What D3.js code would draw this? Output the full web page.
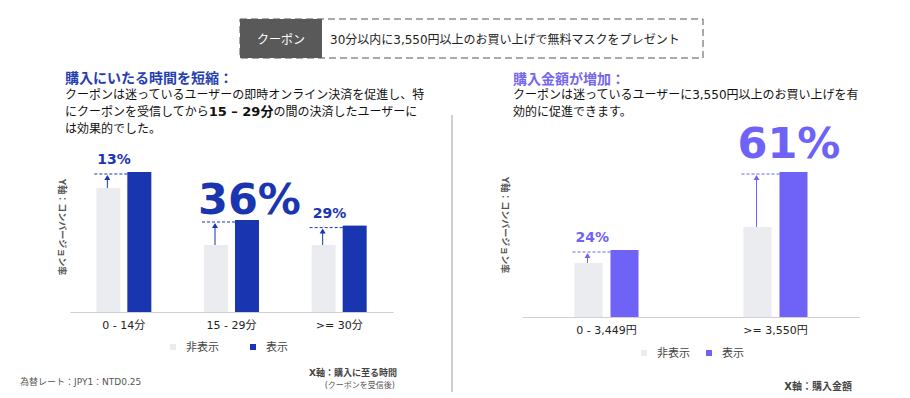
<!DOCTYPE html>
<html>
<head>
<meta charset="utf-8">
<script src="https://cdn.jsdelivr.net/npm/d3@7"></script>
<style>
	body { margin: 0; background: #fff; }
	text { font-family: "DejaVu Sans", "Noto Sans CJK JP", sans-serif; }
</style>
</head>
<body>
<script>
// left chart data (conversion rate, relative)
const timeCats = ["0 - 14分", "15 - 29分", ">= 30分"];
const timeHidden = [62, 33.5, 33.5];
const timeShown = [70, 46, 43.2];
const timeLift = ["13%", "36%", "29%"];

// right chart data
const amountCats = ["0 - 3,449円", ">= 3,550円"];
const amountHidden = [27, 45];
const amountShown = [33.5, 72.5];
const amountLift = ["24%", "61%"];

const legendNames = ["非表示", "表示"];

const width = 910;
const height = 398;
const grey = "#ebecf0";
const blue = "#1a35b0";
const purple = "#6e62f7";

const svg = d3.select("body").append("svg")
	.attr("width", width)
	.attr("height", height);

// coupon header box
svg.append("rect")
	.attr("x", 240).attr("y", 19)
	.attr("width", 463).attr("height", 39)
	.attr("fill", "none")
	.attr("stroke", "#555")
	.attr("stroke-dasharray", "7,4");
svg.append("rect")
	.attr("x", 240).attr("y", 19)
	.attr("width", 82).attr("height", 39)
	.attr("fill", "#595959");
svg.append("text")
	.attr("x", 281).attr("y", 44)
	.attr("text-anchor", "middle")
	.attr("font-size", 12)
	.attr("fill", "#fff")
	.text("クーポン");
svg.append("text")
	.attr("x", 330).attr("y", 44)
	.attr("font-size", 12)
	.attr("fill", "#222")
	.text("30分以内に3,550円以上のお買い上げで無料マスクをプレゼント");

// divider
svg.append("line")
	.attr("x1", 452).attr("x2", 452)
	.attr("y1", 115).attr("y2", 392)
	.attr("stroke", "#888")
	.attr("stroke-width", 0.8);

// text blocks
const addTitle = (x, y, txt, color) => {
	svg.append("text")
		.attr("x", x).attr("y", y)
		.attr("font-size", 14)
		.attr("font-weight", "bold")
		.attr("fill", color)
		.text(txt);
};
addTitle(65, 83, "購入にいたる時間を短縮：", "#2440b0");
addTitle(513, 84, "購入金額が増加：", "#7566f0");

const body = (x, y, parts) => {
	const t = svg.append("text")
		.attr("x", x).attr("y", y)
		.attr("font-size", 12)
		.attr("fill", "#111");
	parts.forEach((p) => {
		t.append("tspan")
			.attr("font-weight", p[1] ? "bold" : null)
			.attr("font-size", p[1] ? 13 : null)
			.text(p[0]);
	});
};
body(65, 99, [["クーポンは迷っているユーザーの即時オンライン決済を促進し、特", false]]);
body(65, 116, [["にクーポンを受信してから", false], ["15 – 29分", true], ["の間の決済したユーザーに", false]]);
body(65, 133, [["は効果的でした。", false]]);
body(513, 99, [["クーポンは迷っているユーザーに3,550円以上のお買い上げを有", false]]);
body(513, 116, [["効的に促進できます。", false]]);

// generic grouped bar chart
const drawChart = (opt) => {
	const g = svg.append("g");
	const x = d3.scaleBand()
		.domain(opt.cats)
		.range([opt.x0, opt.x1]);
	const y = d3.scaleLinear()
		.domain([0, 100])
		.range([opt.base, opt.base - 200]);

	// baseline axis
	const axis = g.append("g")
		.attr("transform", `translate(0,${opt.base})`)
		.call(d3.axisBottom(x).tickSize(0).tickPadding(9));
	axis.select(".domain").attr("stroke", "#d0d0d4").attr("stroke-width", 1.2);
	axis.selectAll("text")
		.attr("font-size", 11)
		.attr("fill", "#222")
		.style("font-family", '"DejaVu Sans", "Noto Sans CJK JP", sans-serif');

	opt.cats.forEach((c, i) => {
		const cx = x(c) + x.bandwidth() / 2;
		const gx = cx - opt.gap / 2 - opt.bw;
		const bx = cx + opt.gap / 2;
		const gy = y(opt.hidden[i]);
		const by = y(opt.shown[i]);

		g.append("rect")
			.attr("x", gx).attr("y", gy)
			.attr("width", opt.bw).attr("height", opt.base - gy)
			.attr("fill", grey);
		g.append("rect")
			.attr("x", bx).attr("y", by)
			.attr("width", opt.bw).attr("height", opt.base - by)
			.attr("fill", opt.color);

		// dashed reference line + arrow
		g.append("line")
			.attr("x1", gx - 2).attr("x2", bx)
			.attr("y1", by + 2).attr("y2", by + 2)
			.attr("stroke", opt.color)
			.attr("stroke-width", 1)
			.attr("stroke-dasharray", "3,2");
		const ax = gx + opt.bw / 2 - 1;
		g.append("line")
			.attr("x1", ax).attr("x2", ax)
			.attr("y1", gy).attr("y2", by + 6)
			.attr("stroke", opt.color)
			.attr("stroke-width", 1);
		g.append("path")
			.attr("d", `M${ax - 3},${by + 8}L${ax},${by + 3}L${ax + 3},${by + 8}Z`)
			.attr("fill", opt.color);

		const big = opt.big[i];
		g.append("text")
			.attr("x", big ? gx - 6 : gx + 1)
			.attr("y", by - (big ? opt.bigDy : 8))
			.attr("font-size", big ? 43 : 14)
			.attr("font-weight", "bold")
			.attr("fill", opt.color)
			.text(opt.lift[i]);
	});

	// y axis label
	g.append("text")
		.attr("transform", `translate(${opt.yLabelX},${opt.yLabelY}) rotate(90)`)
		.attr("text-anchor", "middle")
		.attr("font-size", 9)
		.attr("font-weight", "bold")
		.attr("fill", "#555")
		.text("Y軸：コンバージョン率");

	// legend
	const leg = g.append("g")
		.attr("transform", `translate(${opt.legX},${opt.legY})`);
	[grey, opt.color].forEach((col, i) => {
		const lx = i * opt.legStep;
		leg.append("rect")
			.attr("x", lx).attr("y", -4)
			.attr("width", 6).attr("height", 6)
			.attr("fill", col);
		leg.append("text")
			.attr("x", lx + 16).attr("y", 3)
			.attr("font-size", 11)
			.attr("fill", "#444")
			.text(legendNames[i]);
	});
};

drawChart({
	cats: timeCats, hidden: timeHidden, shown: timeShown, lift: timeLift,
	big: [false, true, false], bigDy: 6,
	x0: 70, x1: 393, base: 312, bw: 24, gap: 7, color: blue,
	yLabelX: 59, yLabelY: 227,
	legX: 170, legY: 348, legStep: 80
});

drawChart({
	cats: amountCats, hidden: amountHidden, shown: amountShown, lift: amountLift,
	big: [false, true], bigDy: 14,
	x0: 522, x1: 860, base: 317, bw: 28, gap: 8, color: purple,
	yLabelX: 502, yLabelY: 225,
	legX: 641, legY: 354, legStep: 65
});

// footnotes
svg.append("text")
	.attr("x", 20).attr("y", 385)
	.attr("font-size", 9)
	.attr("fill", "#555")
	.text("為替レート：JPY1：NTD0.25");
svg.append("text")
	.attr("x", 397).attr("y", 376)
	.attr("text-anchor", "end")
	.attr("font-size", 9)
	.attr("font-weight", "bold")
	.attr("fill", "#444")
	.text("X軸：購入に至る時間");
svg.append("text")
	.attr("x", 395).attr("y", 388)
	.attr("text-anchor", "end")
	.attr("font-size", 8)
	.attr("fill", "#555")
	.text("(クーポンを受信後)");
svg.append("text")
	.attr("x", 852).attr("y", 390)
	.attr("text-anchor", "end")
	.attr("font-size", 10)
	.attr("font-weight", "bold")
	.attr("fill", "#444")
	.text("X軸：購入金額");
</script>
</body>
</html>
